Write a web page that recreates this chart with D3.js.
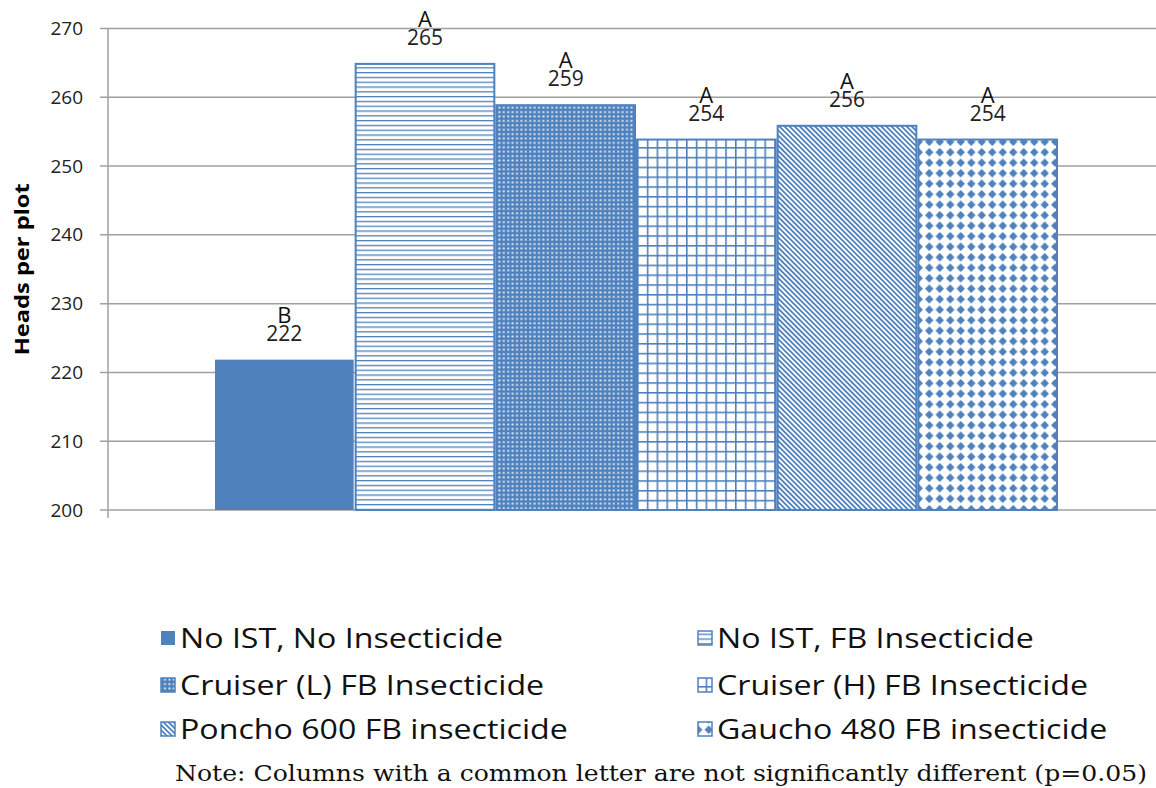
<!DOCTYPE html>
<html><head><meta charset="utf-8">
<script src="https://cdn.jsdelivr.net/npm/d3@7"></script>
<style>
html,body{margin:0;padding:0;background:#fff;}
svg{display:block;}
</style></head>
<body>
<svg id="chart" width="1156" height="788"></svg>
<script>
const treatments = ["No IST, No Insecticide","No IST, FB Insecticide","Cruiser (L) FB Insecticide","Cruiser (H) FB Insecticide","Poncho 600 FB insecticide","Gaucho 480 FB insecticide"];
const values = [222, 265, 259, 254, 256, 254];
const letters = ["B","A","A","A","A","A"];
const patterns = ["solid","hlines","dots","grid","diag","diamond"];
const yTicks = [200,210,220,230,240,250,260,270];
const yTitle = "Heads per plot";
const note = "Note: Columns with a common letter are not significantly different (p=0.05)";

const blue = "#4F81BD";
const svg = d3.select("#chart");
const defs = svg.append("defs");

function mkPat(id, w, h, transform){
  const p = defs.append("pattern").attr("id", id).attr("patternUnits","userSpaceOnUse")
    .attr("width", w).attr("height", h);
  if (transform) p.attr("patternTransform", transform);
  return p;
}
let p;
p = mkPat("hlines", 4.8, 4.8);
p.append("rect").attr("width",4.8).attr("height",4.8).attr("fill","#fff");
p.append("rect").attr("y",0).attr("width",4.8).attr("height",1.3).attr("fill",blue);

p = mkPat("dots", 4.4, 4.4);
p.append("rect").attr("width",4.4).attr("height",4.4).attr("fill",blue);
p.append("rect").attr("x",1.2).attr("y",1.2).attr("width",2).attr("height",1.8).attr("fill","#fff").attr("opacity",0.85);

p = mkPat("grid", 9.8, 9.8);
p.append("rect").attr("width",9.8).attr("height",9.8).attr("fill","#fff");
p.append("rect").attr("width",9.8).attr("height",1.6).attr("fill",blue);
p.append("rect").attr("width",1.6).attr("height",9.8).attr("fill",blue);

p = mkPat("diag", 3.6, 3.6, "rotate(-45)");
p.append("rect").attr("width",3.6).attr("height",3.6).attr("fill","#fff");
p.append("rect").attr("width",1.8).attr("height",3.6).attr("fill",blue);

p = mkPat("diamond", 10.5, 10.5);
p.append("rect").attr("width",10.5).attr("height",10.5).attr("fill","#fff");
p.append("path").attr("d","M5.25,1 L9.5,5.25 L5.25,9.5 L1,5.25 Z").attr("fill",blue);

function fillFor(pt){ return pt === "solid" ? blue : `url(#${pt})`; }

const y = d3.scaleLinear().domain([200,270]).range([510,28.5]);
const plotLeft = 108, plotRight = 1156;
const x = d3.scaleBand().domain(treatments).range([214,1058]).paddingInner(0).paddingOuter(0);

svg.append("g").selectAll("line").data(yTicks).join("line")
  .attr("x1", plotLeft-8).attr("x2", plotRight)
  .attr("y1", d=>y(d)).attr("y2", d=>y(d))
  .attr("stroke", "#a0a0a0").attr("stroke-width", 1.5);

const yAxis = d3.axisLeft(y).tickValues(yTicks).tickSize(0).tickPadding(25);
const ga = svg.append("g").attr("transform",`translate(${plotLeft},0)`).call(yAxis);
ga.select(".domain").remove();
ga.selectAll("text").attr("font-family","'Open Sans', sans-serif").attr("font-size",19).attr("fill","#222");
svg.append("line").attr("x1",plotLeft).attr("x2",plotLeft).attr("y1",y(270)).attr("y2",y(200)+8)
  .attr("stroke","#a0a0a0").attr("stroke-width",1.5);

svg.append("text").attr("transform",`translate(29,${(y(200)+y(270))/2}) rotate(-90)`)
  .attr("text-anchor","middle").attr("font-family","'Open Sans', sans-serif").attr("font-weight","bold")
  .attr("font-size",20).attr("textLength",172).attr("lengthAdjust","spacingAndGlyphs")
  .attr("fill","#000").text(yTitle);

const bars = svg.append("g");
treatments.forEach((t,i)=>{
  const x0 = x(t), w = x.bandwidth();
  bars.append("rect").attr("x", x0+1).attr("y", y(values[i])+1)
    .attr("width", w-2).attr("height", y(200)-y(values[i])-1)
    .attr("fill", fillFor(patterns[i]))
    .attr("stroke", blue).attr("stroke-width", patterns[i]==="solid"?0:2);
  bars.append("text").attr("x", x0+w/2).attr("y", y(values[i])-18)
    .attr("text-anchor","middle").attr("font-family","'Open Sans', sans-serif").attr("font-size",21)
    .attr("fill","#222").text(values[i]);
  bars.append("text").attr("x", x0+w/2).attr("y", y(values[i])-36)
    .attr("text-anchor","middle").attr("font-family","'Open Sans', sans-serif").attr("font-size",22)
    .attr("fill","#111").text(letters[i]);
});

const lg = svg.append("g");
const cols = [160, 697], rows = [638, 685, 729];
let factor = null;
treatments.forEach((t,i)=>{
  const cx = cols[i%2], cy = rows[Math.floor(i/2)];
  lg.append("rect").attr("x",cx+1).attr("y",cy-7).attr("width",14).attr("height",14)
    .attr("fill", fillFor(patterns[i])).attr("stroke",blue).attr("stroke-width",patterns[i]==="solid"?0:1.5);
  const tx = lg.append("text").attr("x",cx+20).attr("y",cy+9.5).attr("font-family","'Open Sans', sans-serif")
    .attr("font-size",27).attr("fill","#111").text(t);
  const natural = tx.node().getComputedTextLength();
  if (factor === null) factor = 323 / natural;
  tx.attr("textLength", natural*factor).attr("lengthAdjust","spacingAndGlyphs");
});

svg.append("text").attr("x",661).attr("y",781).attr("text-anchor","middle")
  .attr("font-family","'DejaVu Serif', serif").attr("font-size",23)
  .attr("textLength",972).attr("lengthAdjust","spacingAndGlyphs")
  .attr("fill","#111").text(note);
</script>
</body></html>
